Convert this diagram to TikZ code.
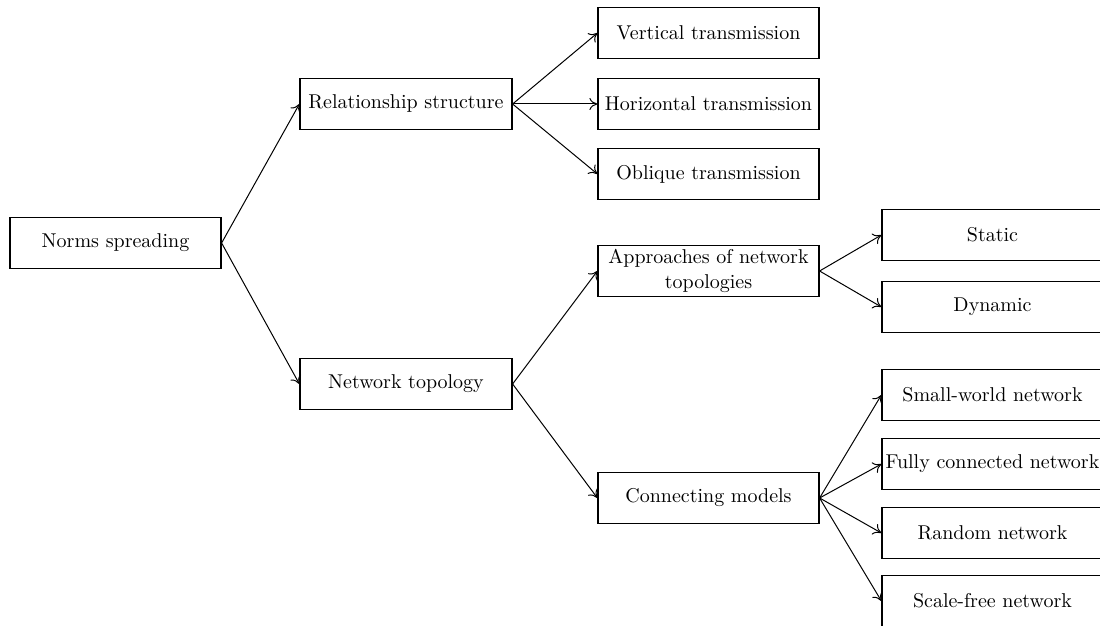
\documentclass[tikz,border=0pt]{standalone}
\usetikzlibrary{arrows.meta}

\begin{document}
\begin{tikzpicture}[x=0.5pt, y=-0.5pt, every node/.style={draw, line width=0.6pt, minimum height=25.5pt, inner sep=1pt, font=\fontsize{10}{12.5}\selectfont}]

\tikzset{
    box1/.style={minimum width=105.5pt},
    box2/.style={minimum width=106pt},
    box3/.style={minimum width=110.5pt, align=center},
    link/.style={line width=0.5pt, -{To[length=4pt, width=6pt]}}
}

\useasboundingbox (0,0) rectangle (1100,626);

% root and first level
\node[box1] (norms) at (115.5,243) {Norms spreading};
\node[box2] (relation) at (406,104) {Relationship structure};
\node[box2] (topology) at (406,384) {Network topology};

% second level
\node[box3] (vertical) at (708.5,33) {Vertical transmission};
\node[box3] (horizontal) at (708.5,104) {Horizontal transmission};
\node[box3] (oblique) at (708.5,174) {Oblique transmission};
\node[box3] (approach) at (708.5,271) {Approaches of network\\topologies};
\node[box3] (connect) at (708.5,498) {Connecting models};

% third level
\node[box3] (static) at (992.5,235) {Static};
\node[box3] (dynamic) at (992.5,307) {Dynamic};
\node[box3] (small) at (992.5,395) {Small-world network};
\node[box3] (fully) at (992.5,464) {Fully connected network};
\node[box3] (random) at (992.5,533) {Random network};
\node[box3] (scale) at (992.5,601) {Scale-free network};

\foreach \t in {relation, topology} {
    \draw[link] (norms.east) -- (\t.west);
}

\foreach \t in {vertical, horizontal, oblique} {
    \draw[link] (relation.east) -- (\t.west);
}

\foreach \t in {approach, connect} {
    \draw[link] (topology.east) -- (\t.west);
}

\foreach \t in {static, dynamic} {
    \draw[link] (approach.east) -- (\t.west);
}

\foreach \t in {small, fully, random, scale} {
    \draw[link] (connect.east) -- (\t.west);
}

\end{tikzpicture}
\end{document}
